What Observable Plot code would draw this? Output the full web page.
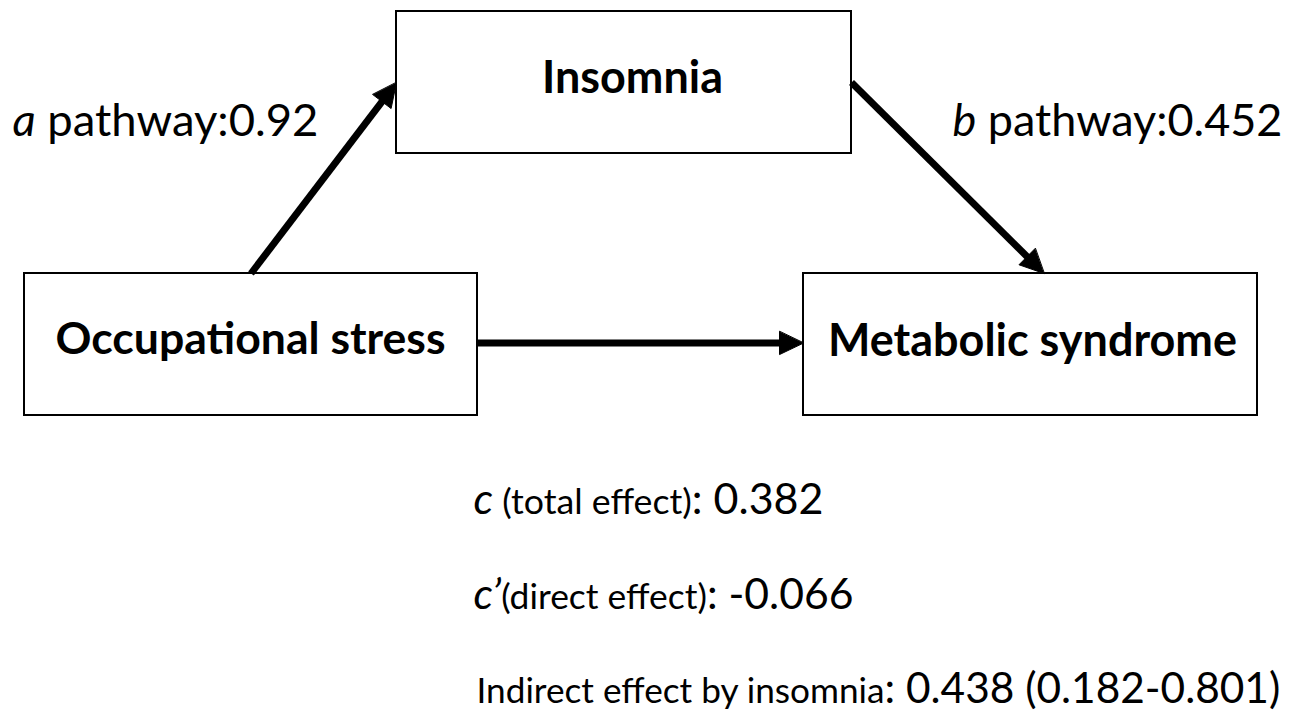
<!DOCTYPE html>
<html>
<head>
<meta charset="utf-8">
<script src="https://cdn.jsdelivr.net/npm/d3@7"></script>
<script src="https://cdn.jsdelivr.net/npm/@observablehq/plot@0.6"></script>
<style>
  html, body { margin: 0; padding: 0; background: #fff; }
  svg { display: block; }
</style>
</head>
<body>
<script>
// ---------------- Data ----------------
const nodeNames = ["Occupational stress", "Insomnia", "Metabolic syndrome"];
const pathFrom = ["Occupational stress", "Insomnia", "Occupational stress"];
const pathTo = ["Insomnia", "Metabolic syndrome", "Metabolic syndrome"];
const pathSymbols = ["a", "b"];
const pathWord = "pathway:";
const pathValues = ["0.92", "0.452"];
const effectSymbols = ["c", "c\u2019", ""];
const effectNames = [" (total effect)", "(direct effect)", "Indirect effect by insomnia"];
const effectValues = ["0.382", "-0.066", "0.438 (0.182-0.801)"];

// ---------------- Layout (positions / sizes) ----------------
const W = 1303, H = 713, S = 44;
const boxes = {
  "Occupational stress": {cx: 250.5, cy: 344, w: 453, h: 142, lx: 250, ly: 353, tw: 390},
  "Insomnia":            {cx: 623.5, cy: 82,  w: 455, h: 142, lx: 632, ly: 92,  tw: 181},
  "Metabolic syndrome":  {cx: 1030,  cy: 344, w: 454, h: 142, lx: 1032, ly: 355, tw: 409}
};
const ports = [
  {from: ["top", 0.5],    to: ["left", 0.5]},
  {from: ["right", 0.5],  to: ["top", 0.53]},
  {from: ["right", 0.49], to: ["left", 0.49]}
];
const pathLabelPos = [{x: 12, y: 135, tw: 306}, {x: 952, y: 135, tw: 330}];
const effectPos = [{x: 473, y: 513, tw: 350}, {x: 473, y: 608, tw: 380}, {x: 476, y: 702, tw: 804}];
const shaftWidth = 7, headLen = 24, headWidth = 23;

// ---------------- Derived rows ----------------
const boxRows = nodeNames.map(name => {
  const b = boxes[name];
  return {name, x1: b.cx - b.w / 2, x2: b.cx + b.w / 2, y1: b.cy - b.h / 2, y2: b.cy + b.h / 2, lx: b.lx, ly: b.ly, tw: b.tw};
});
function port(name, [side, t]) {
  const b = boxes[name];
  const x0 = b.cx - b.w / 2, x1 = b.cx + b.w / 2, y0 = b.cy - b.h / 2, y1 = b.cy + b.h / 2;
  if (side === "top") return [x0 + t * b.w, y0];
  if (side === "bottom") return [x0 + t * b.w, y1];
  if (side === "left") return [x0, y0 + t * b.h];
  return [x1, y0 + t * b.h];
}
const arrowRows = [];
const headPts = [];
pathFrom.forEach((f, i) => {
  const [sx, sy] = port(f, ports[i].from);
  const [tx, ty] = port(pathTo[i], ports[i].to);
  const L = Math.hypot(tx - sx, ty - sy);
  const ux = (tx - sx) / L, uy = (ty - sy) / L;
  const nx = -uy, ny = ux;
  const bx = tx - ux * headLen, by = ty - uy * headLen;
  arrowRows.push({sx, sy, ex: tx - ux * headLen * 0.8, ey: ty - uy * headLen * 0.8});
  headPts.push({id: i, x: tx, y: ty});
  headPts.push({id: i, x: bx + nx * headWidth / 2, y: by + ny * headWidth / 2});
  headPts.push({id: i, x: bx - nx * headWidth / 2, y: by - ny * headWidth / 2});
});
const pathRows = pathSymbols.map((s, i) => ({
  x: pathLabelPos[i].x, y: pathLabelPos[i].y, tw: pathLabelPos[i].tw,
  segs: [{t: s, it: true, r: 1}, {t: " " + pathWord, r: 1}, {t: pathValues[i], r: 1}],
  full: `${s} ${pathWord}${pathValues[i]}`
}));
const effectRows = effectNames.map((n, i) => ({
  x: effectPos[i].x, y: effectPos[i].y, tw: effectPos[i].tw,
  segs: [effectSymbols[i] ? {t: effectSymbols[i], it: true, r: 1} : null, {t: n, r: 0.83}, {t: ": " + effectValues[i], r: 1}].filter(Boolean),
  full: `${effectSymbols[i]}${n}: ${effectValues[i]}`
}));

// ---------------- Plot ----------------
const svg = Plot.plot({
  width: W, height: H, margin: 0,
  x: {domain: [0, W], range: [0, W], axis: null},
  y: {domain: [0, H], range: [0, H], axis: null},
  style: {fontFamily: "Lato, 'Open Sans', sans-serif", background: "white", color: "black"},
  marks: [
    Plot.rect(boxRows, {x1: "x1", x2: "x2", y1: "y1", y2: "y2", fill: "white", stroke: "black", strokeWidth: 2}),
    Plot.link(arrowRows, {x1: "sx", y1: "sy", x2: "ex", y2: "ey", stroke: "black", strokeWidth: shaftWidth, strokeLinecap: "butt"}),
    Plot.line(headPts, {x: "x", y: "y", z: "id", fill: "black", stroke: "black", strokeWidth: 1, curve: "linear-closed"}),
    Plot.text(boxRows, {x: "lx", y: "ly", text: "name", fontWeight: "bold", fontSize: S, textAnchor: "middle", lineAnchor: "bottom"}),
    Plot.text(pathRows, {x: "x", y: "y", text: "full", fontSize: S, textAnchor: "start", lineAnchor: "bottom"}),
    Plot.text(effectRows, {x: "x", y: "y", text: "full", fontSize: S, textAnchor: "start", lineAnchor: "bottom"})
  ]
});
document.body.append(svg);

// ---------------- Rich text + width fitting ----------------
function fit(el, target) {
  const len = el.getComputedTextLength();
  if (!len || !target) return;
  const k = target / len;
  const spans = el.querySelectorAll("tspan");
  if (spans.length) spans.forEach(sp => sp.style.fontSize = (+sp.getAttribute("data-r") * S * k) + "px");
  else el.style.fontSize = (S * k) + "px";
}
const textGroups = svg.querySelectorAll('g[aria-label="text"]');
function richify(group, rows) {
  d3.select(group).selectAll("text").each(function(_, i) {
    const row = rows[i];
    if (!row) return;
    const t = d3.select(this);
    t.text(null).style("white-space", "pre");
    row.segs.forEach(s => {
      t.append("tspan").text(s.t)
        .attr("data-r", s.r)
        .attr("font-style", s.it ? "italic" : null)
        .style("font-size", (s.r * S) + "px");
    });
    fit(this, row.tw);
  });
}
try {
  d3.select(textGroups[0]).selectAll("text").each(function(_, i) {
    fit(this, boxRows[i] && boxRows[i].tw);
  });
  richify(textGroups[1], pathRows);
  richify(textGroups[2], effectRows);
} catch (e) { console.error(e); }
</script>
</body>
</html>
